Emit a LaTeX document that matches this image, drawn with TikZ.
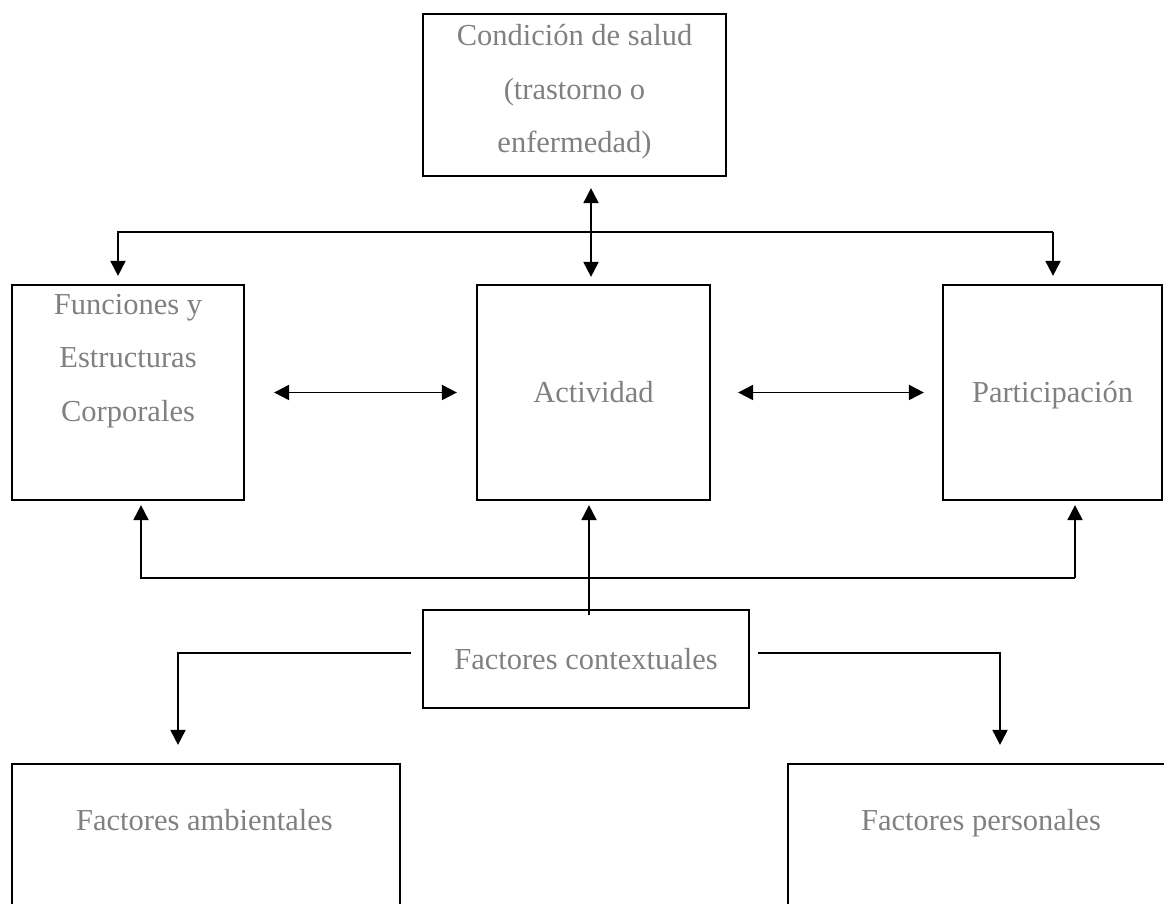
\documentclass[tikz,border=0pt]{standalone}
\usepackage{fontspec}
\setmainfont{Liberation Serif}
\usetikzlibrary{arrows.meta}
\definecolor{gris}{gray}{0.5}
\tikzset{
  caja/.style={draw, line width=2.2pt, inner sep=0pt},
  rotulo/.style={text=gris, align=center, font=\fontsize{30.5}{53.5}\selectfont},
  unalinea/.style={text height=20pt, text depth=0pt},
  enlace/.style={line width=1.9pt}
}

\begin{document}
\begin{tikzpicture}[x=1pt, y=-1pt, >={Triangle[length=15pt,width=15pt]}]
\useasboundingbox (0,0) rectangle (1164,904);
\clip (0,0) rectangle (1164,904);
% cajas
\node[caja, minimum width=303pt, minimum height=162pt] (salud) at (574.5,95) {};
\node[rotulo] (saludtxt) at (574.5,92) {Condición de salud\\(trastorno o\\enfermedad)};
\node[caja, minimum width=232pt, minimum height=215pt] (funciones) at (128,392.5) {};
\node[rotulo] (funcionestxt) at (128,361) {Funciones y\\Estructuras\\Corporales};
\node[caja, rotulo, unalinea, minimum width=233pt, minimum height=215pt] (actividad) at (593.5,392.5) {Actividad};
\node[caja, rotulo, unalinea, minimum width=219pt, minimum height=215pt] (participacion) at (1052.5,392.5) {Participación};
\node[caja, rotulo, unalinea, minimum width=326pt, minimum height=98pt] (contextuales) at (586,659) {Factores contextuales};
\node[caja, minimum width=388pt, minimum height=226pt] (ambientales) at (206,877) {};
\node[rotulo] (ambientalestxt) at (204.5,820) {Factores ambientales};
\node[caja, minimum width=386pt, minimum height=226pt] (personales) at (981,877) {};
\node[rotulo] (personalestxt) at (981,823) {Factores personales};
% esquinas de las lineas
\coordinate (arribaI) at (118,232);
\coordinate (arribaD) at (1053,232);
\coordinate (abajoI) at (141,578);
\coordinate (abajoD) at (1075,578);
\coordinate (ladoI) at (178,653);
\coordinate (ladoD) at (1000,653);
% conexiones
\draw[enlace, <->, shorten <=11pt, shorten >=7pt] ([xshift=16.5pt]salud.south) -- ([xshift=-2.5pt]actividad.north);
\draw[enlace, ->, shorten >=8pt] (arribaD) -- (arribaI) -- (arribaI |- funciones.north);
\draw[enlace, ->, shorten >=8pt] (arribaD) -- (arribaD |- participacion.north);
\draw[enlace, <->, shorten <=29pt, shorten >=19pt] (funciones.east) -- (actividad.west);
\draw[enlace, <->, shorten <=27pt, shorten >=18pt] (actividad.east) -- (participacion.west);
\draw[enlace, ->, shorten >=4pt] (abajoD) -- (abajoI) -- (abajoI |- funciones.south);
\draw[enlace, ->, shorten >=4pt] (abajoD) -- (abajoD |- participacion.south);
\draw[enlace, ->, shorten <=-6pt, shorten >=4pt] ([xshift=3pt]contextuales.north) -- ([xshift=-4.5pt]actividad.south);
\draw[enlace, ->, shorten >=18pt] ([xshift=-11pt, yshift=6pt]contextuales.west) -- (ladoI) -- (ladoI |- ambientales.north);
\draw[enlace, ->, shorten >=18pt] ([xshift=8pt, yshift=6pt]contextuales.east) -- (ladoD) -- (ladoD |- personales.north);
\end{tikzpicture}
\end{document}
